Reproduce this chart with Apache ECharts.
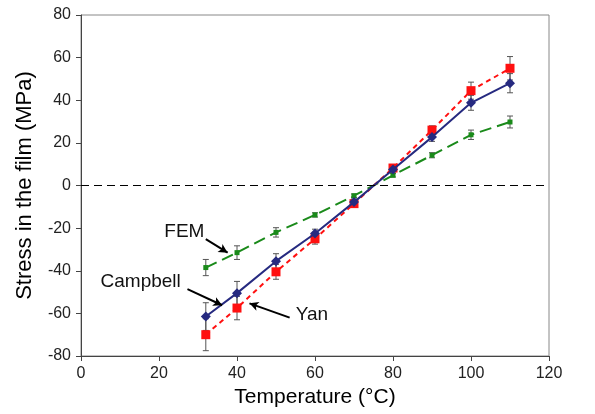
<!DOCTYPE html>
<html><head><meta charset="utf-8">
<script src="https://cdn.jsdelivr.net/npm/echarts@6/dist/echarts.min.js"></script>
<style>html,body{margin:0;padding:0;background:#fff}#c{width:595px;height:414px}</style>
</head><body><div id="c"></div>
<script>
const temps = [32, 40, 50, 60, 70, 80, 90, 100, 110];
const yan = [-70, -57.5, -40.5, -25, -8.5, 8.2, 26, 44.5, 55];
const yanErr = [7.5, 5.5, 3.5, 2.5, 1.5, 1.2, 2, 4, 5.5];
const campbell = [-61.5, -50.5, -35.5, -22.5, -7.8, 7.5, 22.7, 38.8, 48];
const campbellErr = [6.5, 5.5, 3.5, 2, 1.5, 1.2, 2, 3.5, 4.5];
const fem = [-38.5, -31.5, -22, -13.8, -4.8, 4.8, 14.2, 23.8, 29.8];
const femErr = [3.8, 3.2, 2.2, 1, 0.8, 0.8, 1.2, 2.2, 2.8];
const yTicks = [-80, -60, -40, -20, 0, 20, 40, 60, 80];
const xTicks = [0, 20, 40, 60, 80, 100, 120];
// annotations: label, label position [x,y], arrow from [x,y], arrow to [x,y]
const annLabels = ['FEM', 'Campbell', 'Yan'];
const annText = [[26.5, -21.5], [15.3, -45], [59.2, -60.5]];
const annFrom = [[32, -25.2], [27.3, -48.6], [53.5, -62]];
const annTo = [[37.6, -31.5], [36.2, -56.2], [43.2, -55.3]];

const chart = echarts.init(document.getElementById('c'));
const font = 'Liberation Sans, Arial, sans-serif';

function zip(xs, ys) { return xs.map((x, i) => [x, ys[i]]); }
function errSeries(vals, errs) {
  return {
    type: 'custom', z: 1, silent: true,
    renderItem: function (params, api) {
      const x = api.value(0), lo = api.value(1), hi = api.value(2);
      const p1 = api.coord([x, hi]), p2 = api.coord([x, lo]);
      const w = 3;
      const st = { stroke: '#555', lineWidth: 1 };
      return { type: 'group', children: [
        { type: 'line', shape: { x1: p1[0], y1: p1[1], x2: p2[0], y2: p2[1] }, style: st },
        { type: 'line', shape: { x1: p1[0] - w, y1: p1[1], x2: p1[0] + w, y2: p1[1] }, style: st },
        { type: 'line', shape: { x1: p2[0] - w, y1: p2[1], x2: p2[0] + w, y2: p2[1] }, style: st }
      ]};
    },
    data: temps.map((t, i) => [t, vals[i] - errs[i], vals[i] + errs[i]])
  };
}

const option = {
  animation: false,
  grid: { left: 81, right: 46, top: 15, bottom: 58, show: true, borderColor: '#888', borderWidth: 1 },
  xAxis: {
    type: 'value', min: 0, max: 120, interval: 20,
    name: 'Temperature (°C)', nameLocation: 'middle', nameGap: 31,
    nameTextStyle: { fontFamily: font, fontSize: 21, color: '#000' },
    axisLine: { onZero: false, lineStyle: { color: '#444' } },
    axisTick: { show: true, length: 5, lineStyle: { color: '#444' } },
    axisLabel: { fontFamily: font, fontSize: 16, color: '#222', margin: 10,
      formatter: v => xTicks.includes(v) ? String(v) : '' },
    splitLine: { show: false }
  },
  yAxis: {
    type: 'value', min: -80, max: 80, interval: 20,
    name: 'Stress in the film (MPa)', nameLocation: 'middle', nameGap: 45,
    nameTextStyle: { fontFamily: font, fontSize: 22, color: '#000' },
    axisLine: { show: true, onZero: false, lineStyle: { color: '#444' } },
    axisTick: { show: true, length: 5, lineStyle: { color: '#444' } },
    axisLabel: { fontFamily: font, fontSize: 16, color: '#222', margin: 10,
      formatter: v => yTicks.includes(v) ? String(v) : '' },
    splitLine: { show: false }
  },
  series: [
    errSeries(fem, femErr),
    errSeries(campbell, campbellErr),
    errSeries(yan, yanErr),
    {
      name: 'FEM', type: 'line', z: 3, data: zip(temps, fem),
      symbol: 'rect', symbolSize: 5, itemStyle: { color: '#1a8a1a' },
      lineStyle: { color: '#1a8a1a', width: 2, type: [12, 6] },
      markLine: {
        silent: true, symbol: 'none', label: { show: false },
        lineStyle: { color: '#000', type: [8, 5], width: 1.2 },
        data: [{ yAxis: 0 }]
      }
    },
    {
      name: 'Campbell', type: 'line', z: 4, data: zip(temps, campbell),
      symbol: 'diamond', symbolSize: 10, itemStyle: { color: '#262a80' },
      lineStyle: { color: '#262a80', width: 2 }
    },
    {
      name: 'Yan', type: 'line', z: 3, data: zip(temps, yan),
      symbol: 'rect', symbolSize: 9, itemStyle: { color: '#ff1010' },
      lineStyle: { color: '#ff1010', width: 2, type: [5, 4] }
    },
    {
      name: 'annotations', type: 'line', z: 6, data: [], silent: true,
      markLine: {
        silent: true, symbol: ['none', 'arrow'], symbolSize: [7, 9],
        label: { show: false },
        lineStyle: { color: '#000', width: 2, type: 'solid' },
        data: annFrom.map((f, i) => [{ coord: f }, { coord: annTo[i] }])
      },
      markPoint: {
        silent: true, symbol: 'circle', symbolSize: 0,
        label: { show: true, position: 'inside', fontFamily: font, fontSize: 19, color: '#111',
          formatter: p => p.name },
        data: annLabels.map((l, i) => ({ name: l, coord: annText[i] }))
      }
    }
  ]
};
chart.setOption(option);
</script></body></html>
